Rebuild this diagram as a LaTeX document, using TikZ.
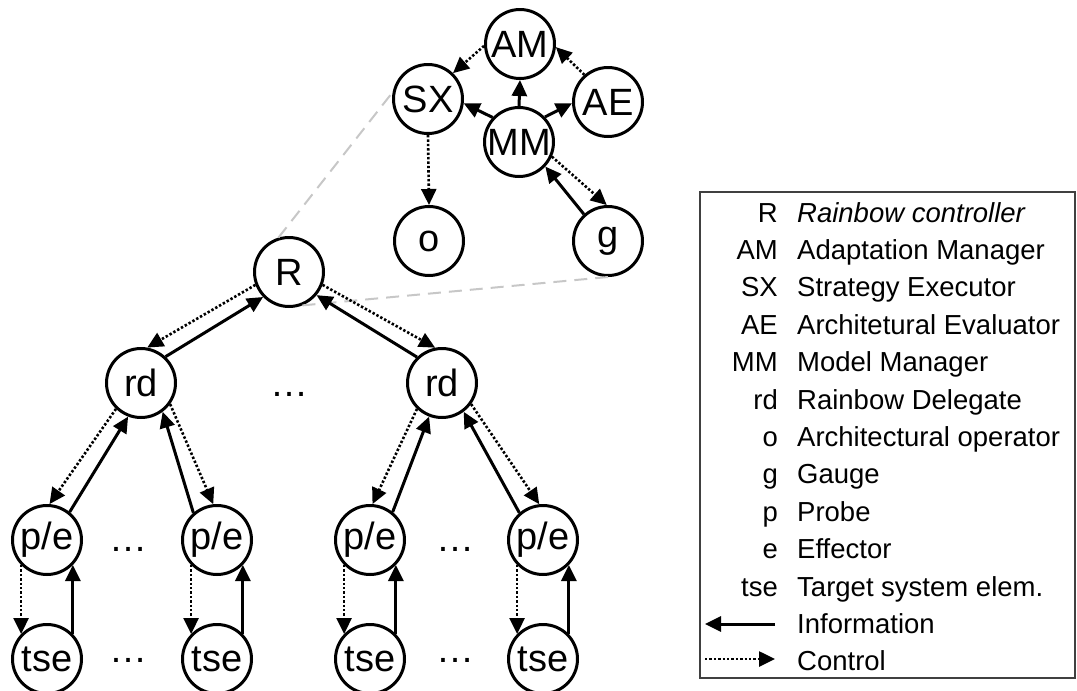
\documentclass[tikz,border=0pt]{standalone}
\usepackage{fontspec}
\setmainfont{Liberation Sans}
\usetikzlibrary{arrows.meta}
\tikzset{
  comp/.style={circle, draw, line width=3pt, minimum size=69pt, inner sep=0pt,
    font=\fontsize{38}{38}\selectfont},
  info/.style={line width=3pt, -{Triangle[length=16pt,width=15pt]}},
  ctrl/.style={line width=2.6pt, dash pattern=on 2.4pt off 2pt,
    -{Triangle[length=16pt,width=15pt]}},
  zoomline/.style={black!22, line width=2pt, dash pattern=on 13pt off 8pt},
  more/.style={inner sep=0pt, font=\fontsize{38}{38}\selectfont},
  abbr/.style={anchor=base east, inner sep=0pt, font=\fontsize{27.5}{27.5}\selectfont},
  desc/.style={anchor=base west, inner sep=0pt, font=\fontsize{27.5}{27.5}\selectfont},
}
\begin{document}
\begin{tikzpicture}[x=1pt,y=-1pt]
\useasboundingbox (0,0) rectangle (1077,691);

% Rainbow controller internals
\node[comp] (AM) at (520,44)  {AM};
\node[comp] (SX) at (428,99)  {SX};
\node[comp] (AE) at (608,102) {AE};
\node[comp] (MM) at (519,142) {MM};
\node[comp] (o)  at (429,241) {o};
\node[comp] (g)  at (608,241) {g};

\draw[ctrl] (AM.183) -- (SX.46);
\draw[ctrl] (AE.131) -- (AM.355);
\draw[info] (MM.north) -- (AM.south);
\draw[info] (MM.137) -- (SX.353);
\draw[info] (MM.44) -- (AE.182);
\draw[ctrl] (SX.south) -- (o.north);
\draw[ctrl] (MM.336) -- (g.92);
\draw[info] (g.132) -- (MM.317);

% controller hierarchy
\node[comp] (R)   at (289,272) {R};
\node[comp] (rdL) at (141,383) {rd};
\node[comp] (rdR) at (442,383) {rd};
\node[more] (dR) at (289,394) {…};

% zoom lines from R to its internals
\draw[zoomline] (R.107) -- (SX.169);
\draw[zoomline] (R.-68) -- (g.south);

\draw[ctrl] (R.201) -- (rdL.80);
\draw[info] (rdL.47) -- (R.224);
\draw[ctrl] (R.339) -- (rdR.101);
\draw[info] (rdR.134) -- (R.320);

% probes / effectors and target system elements
\foreach \nm/\x in {pa/47, pb/217, pc/370, pd/543}{
  \node[comp] (\nm) at (\x,540) {p/e};
  \node[comp] (t\nm) at (\x,659) {tse};
  \draw[ctrl] (\nm.224) -- (t\nm.136);
  \draw[info] (t\nm.44) -- (\nm.316);
}
\node[more] (d1) at (128,549) {…};
\node[more] (d2) at (128,660) {…};
\node[more] (d3) at (455,549) {…};
\node[more] (d4) at (455,660) {…};

\draw[ctrl] (rdL.226) -- (pa.86);
\draw[info] (pa.51) -- (rdL.249);
\draw[ctrl] (rdL.324) -- (pb.96);
\draw[info] (pb.131) -- (rdL.307);

\draw[ctrl] (rdR.226) -- (pc.86);
\draw[info] (pc.51) -- (rdR.249);
\draw[ctrl] (rdR.324) -- (pd.96);
\draw[info] (pd.131) -- (rdR.307);

% legend
\node[draw=black!75, line width=1.8pt, rectangle, inner sep=0pt,
      minimum width=375pt, minimum height=486pt] (legend) at (887.5,435) {};
\foreach \i/\a/\d in {0/R/{\itshape Rainbow controller},
                      1/AM/Adaptation Manager,
                      2/SX/Strategy Executor,
                      3/AE/Architetural Evaluator,
                      4/MM/Model Manager,
                      5/rd/Rainbow Delegate,
                      6/o/Architectural operator,
                      7/g/Gauge,
                      8/p/Probe,
                      9/e/Effector,
                      10/tse/Target system elem.}{
  \node[abbr] (la\i) at (778,222+37.4*\i) {\a};
  \node[desc] (ld\i) at (797,222+37.4*\i) {\d};
}
\coordinate (infoA) at (705,624);
\coordinate (infoB) at (775,624);
\draw[info] (infoB) -- (infoA);
\node[desc] (linfo) at (797,633.4) {Information};
\coordinate (ctrlA) at (705,659);
\coordinate (ctrlB) at (775,659);
\draw[ctrl] (ctrlA) -- (ctrlB);
\node[desc] (lctrl) at (797,670.8) {Control};
\end{tikzpicture}
\end{document}
